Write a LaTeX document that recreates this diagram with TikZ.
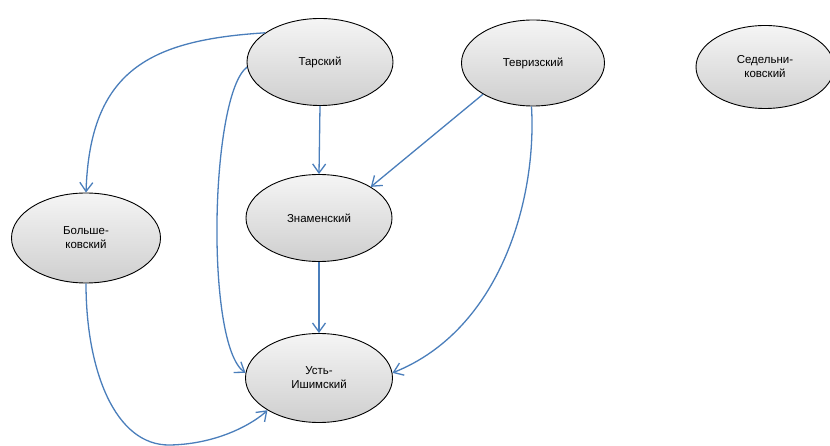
\documentclass[tikz,border=0pt]{standalone}
\usepackage{fontspec}
\setmainfont{Liberation Sans}
\usetikzlibrary{shapes.geometric,arrows.meta}
\definecolor{linkblue}{HTML}{4A7EBB}
\begin{document}
\begin{tikzpicture}[x=1pt,y=-1pt,
  region/.style={ellipse,draw=black,line width=0.9pt,inner sep=0pt,
    top color=gray!8,bottom color=gray!38,
    font=\fontsize{11.5}{14}\selectfont,align=center,
    minimum width=146pt,minimum height=87pt},
  link/.style={draw=linkblue,line width=1.3pt,
    -{Straight Barb[length=9pt,width=13pt,line width=1.3pt]}}]
\useasboundingbox (0,0) rectangle (830,446);

% districts
\node[region] (tar) at (320,62) {Тарский};
\node[region,minimum width=143pt,minimum height=86pt] (tev) at (533,63) {Тевризский};
\node[region,minimum width=138pt,minimum height=83pt] (sed) at (765,67) {Седельни-\\ковский};
\node[region] (zna) at (319,218) {Знаменский};
\node[region,minimum width=149pt,minimum height=90pt] (bol) at (86,238) {Больше-\\ковский};
\node[region,minimum width=147pt,minimum height=89pt] (ust) at (319,378) {Усть-\\Ишимский};

% links
\draw[link] (tar.152) .. controls (150,40) and (90,70) .. (bol.north);
\draw[link] (tar.184) .. controls (210,95) and (205,345) .. (ust.176);
\draw[link] (tar.south) -- (zna.north);
\draw[link] (tev.212) -- (zna.31);
\draw[link] (tev.268) .. controls (537,200) and (500,330) .. (ust.4);
\draw[link] (zna.south) -- (ust.north);
\draw[link] (bol.south) .. controls (86,370) and (115,446) .. (170,445)
  .. controls (220,444) and (255,422) .. (ust.212);
\end{tikzpicture}
\end{document}
